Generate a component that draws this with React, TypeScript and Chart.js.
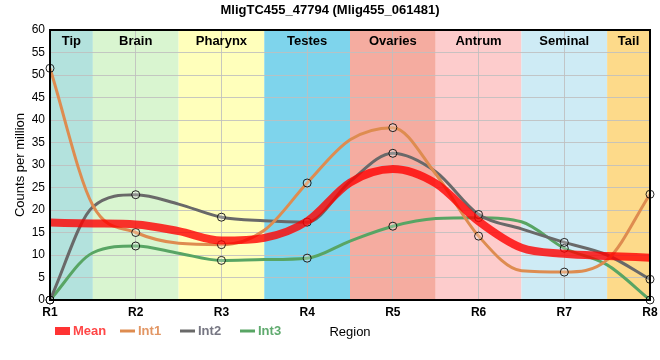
import React, { useEffect, useRef } from 'react';
import { Chart, registerables } from 'chart.js';

Chart.register(...registerables);

const chartTitle = 'MligTC455_47794 (Mlig455_061481)';
const regions = ['R1', 'R2', 'R3', 'R4', 'R5', 'R6', 'R7', 'R8'];
const bandNames = ['Tip', 'Brain', 'Pharynx', 'Testes', 'Ovaries', 'Antrum', 'Seminal', 'Tail'];
const bandColors = ['#b3e2dd', '#d9f5d0', '#ffffbb', '#7ed4ec', '#f5aca0', '#fdcccc', '#ceebf5', '#fdda8a'];

// sample positions along the body: region centres (integers) and band borders (halves)
const samplePositions = [1, 1.5, 2, 2.5, 3, 3.5, 4, 4.5, 5, 5.5, 6, 6.5, 7, 7.5, 8];

const meanValues = [17.2, 17.0, 16.8, 15.3, 13.2, 13.8, 17.5, 26.1, 29.1, 25.9, 17.5, 11.6, 10.3, 9.8, 9.4];
const int1Values = [51.5, 21.0, 15.0, 12.6, 12.3, 15.5, 26.0, 35.6, 38.3, 28.0, 14.2, 6.5, 6.2, 8.9, 23.5];
const int2Values = [0, 20.7, 23.4, 21.3, 18.4, 17.6, 17.3, 26.3, 32.6, 28.5, 19.0, 15.8, 12.8, 10.0, 4.6];
const int3Values = [0, 10.5, 12.0, 10.4, 8.8, 9.0, 9.3, 13.1, 16.4, 18.1, 18.3, 17.4, 11.5, 7.8, 0];

const seriesNames = ['Mean', 'Int1', 'Int2', 'Int3'];
const seriesColors = ['rgba(255,0,0,0.8)', 'rgb(222,140,80)', 'rgb(105,105,105)', 'rgb(88,165,100)'];
const legendTextColors = ['rgb(255,70,70)', 'rgb(226,150,100)', 'rgb(118,118,130)', 'rgb(95,170,110)'];
const seriesWidths = [8, 3, 3, 3];

const yMin = 0;
const yMax = 60;
const yStep = 5;

const FONT = '"Liberation Sans", Arial, Helvetica, sans-serif';

const bandEdges = (xs: any, chartArea: any, i: number) => {
  const x0 = Math.max(chartArea.left, xs.getPixelForValue(i + 0.5));
  const x1 = Math.min(chartArea.right, xs.getPixelForValue(i + 1.5));
  return [x0, x1];
};

const decorPlugin = {
  id: 'decor',
  beforeDraw(chart: any) {
    const { ctx, chartArea } = chart;
    const xs = chart.scales.x;
    ctx.save();
    bandNames.forEach((_, i) => {
      const [x0, x1] = bandEdges(xs, chartArea, i);
      ctx.fillStyle = bandColors[i];
      ctx.fillRect(x0, chartArea.top, x1 - x0, chartArea.bottom - chartArea.top);
    });
    ctx.restore();
  },
  afterDatasetsDraw(chart: any) {
    const { ctx, chartArea } = chart;
    const xs = chart.scales.x;
    ctx.save();
    ctx.strokeStyle = '#000';
    ctx.lineWidth = 2;
    ctx.strokeRect(chartArea.left, chartArea.top, chartArea.right - chartArea.left, chartArea.bottom - chartArea.top);
    ctx.fillStyle = '#000';
    ctx.font = 'bold 13px ' + FONT;
    ctx.textAlign = 'center';
    ctx.textBaseline = 'middle';
    bandNames.forEach((name, i) => {
      const [x0, x1] = bandEdges(xs, chartArea, i);
      ctx.fillText(name, (x0 + x1) / 2, chartArea.top + 11);
    });
    ctx.restore();
  },
  afterDraw(chart: any) {
    const { ctx } = chart;
    ctx.save();
    ctx.fillStyle = '#000';
    ctx.font = 'bold 13px ' + FONT;
    ctx.textAlign = 'center';
    ctx.textBaseline = 'middle';
    ctx.fillText(chartTitle, chart.width / 2, 10);
    const starts = [55, 120, 180, 240];
    const y = 331;
    ctx.font = 'bold 13px ' + FONT;
    ctx.textAlign = 'left';
    seriesNames.forEach((name, i) => {
      const x = starts[i];
      if (i === 0) {
        ctx.fillStyle = seriesColors[i];
        ctx.fillRect(x, y - 4, 15, 8);
      } else {
        ctx.strokeStyle = seriesColors[i];
        ctx.lineWidth = seriesWidths[i];
        ctx.beginPath();
        ctx.moveTo(x, y);
        ctx.lineTo(x + 15, y);
        ctx.stroke();
      }
      ctx.fillStyle = legendTextColors[i];
      ctx.fillText(name, x + 18, y);
    });
    ctx.restore();
  },
};

export default function App() {
  const ref = useRef<HTMLCanvasElement>(null);
  useEffect(() => {
    document.body.style.margin = '0';
    const values = [meanValues, int1Values, int2Values, int3Values];
    const chart = new Chart(ref.current as HTMLCanvasElement, {
      type: 'line',
      data: {
        datasets: seriesNames.map((name, i) => ({
          label: name,
          data: samplePositions.map((x, j) => ({ x, y: values[i][j] })),
          borderColor: seriesColors[i],
          borderWidth: seriesWidths[i],
          backgroundColor: 'rgba(255,255,255,0.25)',
          pointRadius: (c: any) => (i === 0 || !Number.isInteger(c.raw?.x) ? 0 : 4),
          pointHoverRadius: 0,
          pointBorderColor: 'rgba(0,0,0,0.85)',
          pointBorderWidth: 1,
          pointBackgroundColor: 'rgba(255,255,255,0.25)',
          cubicInterpolationMode: 'monotone' as const,
          fill: false,
          clip: false as any,
        })),
      },
      options: {
        responsive: false,
        animation: false,
        parsing: true,
        layout: { padding: { top: 30, right: 10, left: 0, bottom: 0 } },
        plugins: {
          legend: { display: false },
          title: { display: false },
          tooltip: { enabled: false },
        },
        scales: {
          x: {
            type: 'linear',
            min: 1,
            max: regions.length,
            afterFit: (s: any) => { s.height = 60; s.paddingLeft = 0; s.paddingRight = 0; },
            grid: { color: 'rgba(190,190,190,0.85)', drawTicks: false },
            border: { color: '#000', width: 2 },
            ticks: {
              stepSize: 1,
              color: '#000',
              padding: 5,
              autoSkip: false,
              maxRotation: 0,
              callback: (v: any) => regions[Number(v) - 1] ?? '',
              font: { family: FONT, size: 12, weight: 'bold' },
            },
            title: {
              display: true,
              text: 'Region',
              color: '#000',
              font: { family: FONT, size: 13 },
              padding: { top: 0, bottom: 20 },
            },
          },
          y: {
            min: yMin,
            max: yMax,
            afterFit: (s: any) => { s.width = 50; },
            grid: { color: 'rgba(190,190,190,0.85)', drawTicks: false },
            border: { color: '#000', width: 2 },
            ticks: {
              stepSize: yStep,
              color: '#000',
              padding: 5,
              font: { family: FONT, size: 12 },
            },
            title: {
              display: true,
              text: 'Counts per million',
              color: '#000',
              font: { family: FONT, size: 13 },
              padding: { top: 13, bottom: 0 },
            },
          },
        },
      } as any,
      plugins: [decorPlugin],
    });
    return () => chart.destroy();
  }, []);
  return <canvas ref={ref} width={660} height={360} style={{ display: 'block' }} />;
}
